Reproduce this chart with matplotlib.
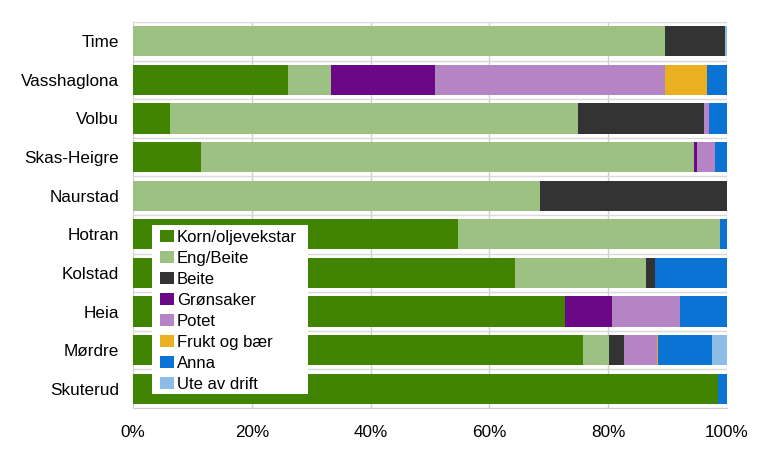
import matplotlib
matplotlib.use("Agg")
import matplotlib.pyplot as plt
from matplotlib.patches import Rectangle
from matplotlib.legend_handler import HandlerPatch
import numpy as np

plt.rcParams['font.family'] = ['Liberation Sans', 'DejaVu Sans']

categories = ["Time", "Vasshaglona", "Volbu", "Skas-Heigre", "Naurstad",
              "Hotran", "Kolstad", "Heia", "Mørdre", "Skuterud"]
series_names = ["Korn/oljevekstar", "Eng/Beite", "Beite", "Grønsaker",
                "Potet", "Frukt og bær", "Anna", "Ute av drift"]
korn      = [0.0, 26.1, 6.3, 11.5, 0.0, 54.7, 64.3, 72.7, 75.8, 98.5]
eng       = [89.5, 7.3, 68.6, 83.0, 68.5, 44.1, 22.1, 0.0, 4.4, 0.0]
beite     = [10.1, 0.0, 21.3, 0.0, 31.5, 0.0, 1.5, 0.0, 2.5, 0.0]
gronsaker = [0.0, 17.5, 0.0, 0.5, 0.0, 0.0, 0.0, 7.9, 0.0, 0.0]
potet     = [0.0, 38.6, 0.7, 2.9, 0.0, 0.0, 0.0, 11.5, 5.5, 0.0]
frukt     = [0.0, 7.2, 0.0, 0.0, 0.0, 0.0, 0.0, 0.0, 0.2, 0.0]
anna      = [0.0, 3.3, 3.1, 2.1, 0.0, 1.2, 12.1, 7.9, 9.1, 1.5]
ute       = [0.4, 0.0, 0.0, 0.0, 0.0, 0.0, 0.0, 0.0, 2.5, 0.0]
series = [korn, eng, beite, gronsaker, potet, frukt, anna, ute]
colors = ["#408402", "#9DC183", "#333333", "#6A0888", "#B584C4",
          "#EBB020", "#0B73D3", "#8DBCE6"]
xtick_labels = ["0%", "20%", "40%", "60%", "80%", "100%"]

W, H = 768, 473
fig = plt.figure(figsize=(W/100, H/100), dpi=100)
ax = fig.add_axes([133/W, 1-408/H, 594/W, 386/H])

y = np.arange(len(categories))
left = np.zeros(len(categories))
for name, vals, c in zip(series_names, series, colors):
    v = np.array(vals)
    ax.barh(y, v, left=left, height=0.78, color=c, label=name, zorder=3)
    left += v

ax.set_xlim(0, 100)
ax.set_ylim(len(categories) - 0.5, -0.5)
ax.set_yticks(y)
ax.set_yticklabels(categories, fontsize=12.3)
ax.set_xticks(np.arange(0, 101, 20))
ax.set_xticklabels(xtick_labels, fontsize=12.3)
ax.tick_params(axis='y', length=0, pad=10)
ax.tick_params(axis='x', length=0, pad=12)

for xv in range(20, 101, 20):
    ax.axvline(xv, color="#D0D0D0", lw=1, zorder=1)
for yb in np.arange(-0.5, len(categories), 1.0):
    ax.axhline(yb, color="#D9D9D9", lw=1, zorder=1)

for s in ax.spines.values():
    s.set_visible(False)
ax.spines['left'].set_visible(True)
ax.spines['left'].set_color("#D0D0D0")
ax.spines['bottom'].set_visible(True)
ax.spines['bottom'].set_color("#D0D0D0")

# legend background box
bg = Rectangle((152/W, 1-394/H), 156/W, 169/H, transform=fig.transFigure,
               facecolor='white', edgecolor='none', zorder=4)
fig.patches.append(bg)

SQ = 6.5  # points

def square(legend, orig_handle, xdescent, ydescent, width, height, fontsize):
    return Rectangle((-xdescent + width - SQ, -ydescent + (height - SQ) / 2), SQ, SQ)

handles, labels = ax.get_legend_handles_labels()
leg = fig.legend(handles, labels, loc='upper left',
                 bbox_to_anchor=(160/W, 1-229.5/H), bbox_transform=fig.transFigure,
                 borderaxespad=0, borderpad=0, fontsize=12, frameon=False,
                 handlelength=0.84, handleheight=0.7, handletextpad=0.18,
                 labelspacing=0.365,
                 handler_map={Rectangle: HandlerPatch(patch_func=square)})
leg.set_zorder(6)

fig.savefig("out.png", dpi=100)
